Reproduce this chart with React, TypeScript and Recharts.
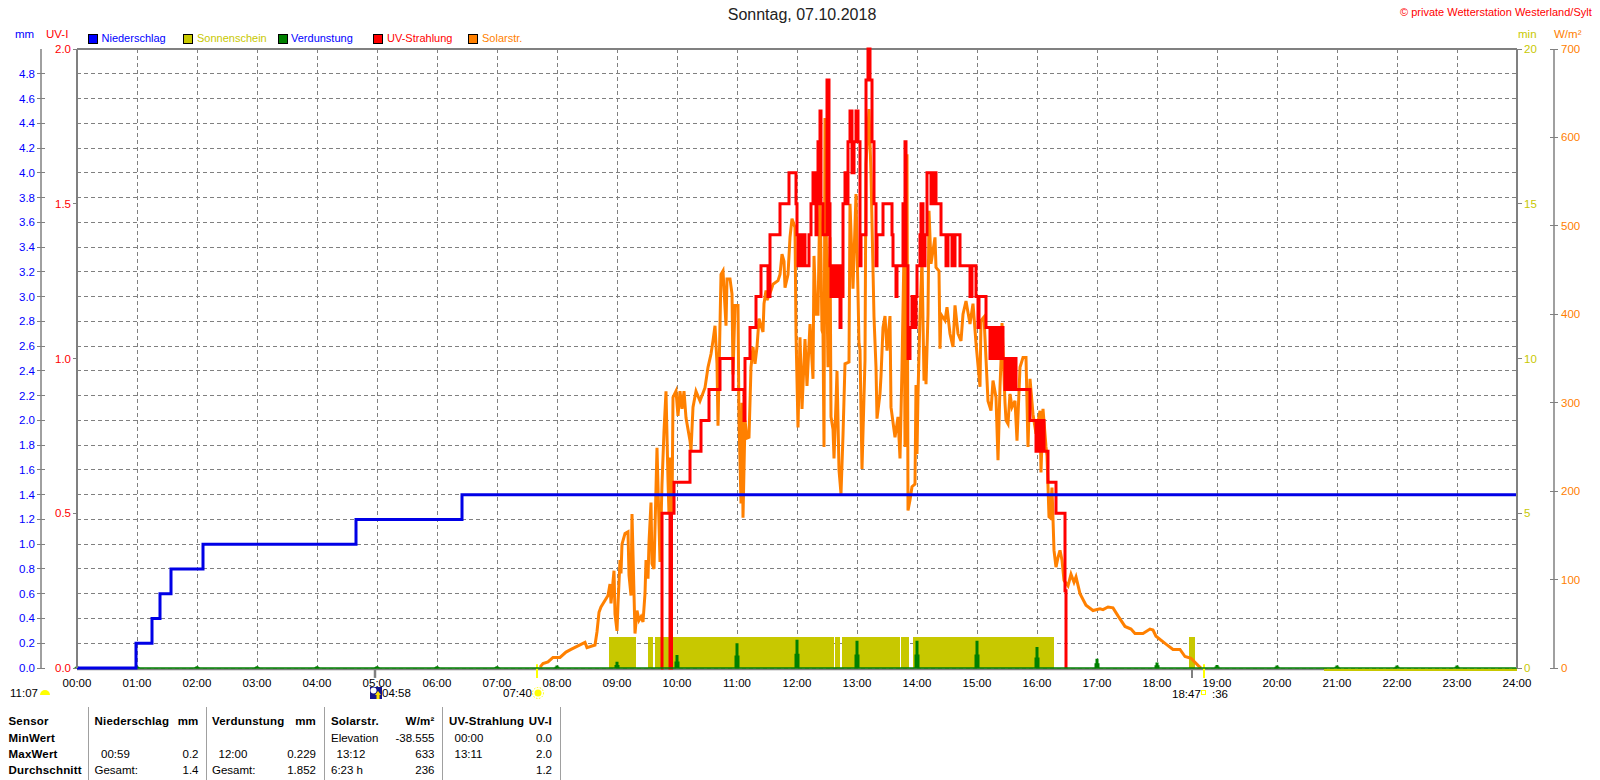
import React from 'react';
import {
  ComposedChart,
  Area,
  Line,
  XAxis,
  YAxis,
  CartesianGrid,
  ReferenceLine,
} from 'recharts';

const FONT = '"Liberation Sans", Arial, sans-serif';
const GRAY = '#808080';
const BLUE = '#0000E6';
const TEXT_BLUE = '#0000FF';
const OLIVE = '#C8C800';
const GREEN = '#008000';
const RED = '#FF0000';
const ORANGE = '#FF8000';

// everything on the x axis is minutes since midnight
const hourTicks = Array.from({ length: 25 }, (_, h) => h * 60);
const mmTicks = [0, 0.2, 0.4, 0.6, 0.8, 1, 1.2, 1.4, 1.6, 1.8, 2, 2.2, 2.4, 2.6, 2.8, 3, 3.2, 3.4, 3.6, 3.8, 4, 4.2, 4.4, 4.6, 4.8];
const uvTicks = [0, 0.5, 1, 1.5, 2];
const minTicks = [0, 5, 10, 15, 20];
const solarTicks = [0, 100, 200, 300, 400, 500, 600, 700];

const rainMinutes = [0, 59, 75, 83, 94, 126, 279, 385, 1440];
const rainValues = [0, 0.2, 0.4, 0.6, 0.8, 1.0, 1.2, 1.4, 1.4];

const sunMinutes = [532, 559, 571, 576, 578, 757, 758, 763, 765, 823, 824, 832, 836, 977, 1112, 1118];
const sunValues = [1, 0, 1, 0, 1, 0, 1, 0, 1, 0, 1, 0, 1, 0, 1, 0];
const sunTailMinutes = [1247, 1440];

const evapHours = [0, 60, 120, 180, 240, 300, 360, 420, 480, 540, 600, 660, 720, 780, 840, 900, 960, 1020, 1080, 1140, 1200, 1260, 1320, 1380];
const evapValues = [0.012, 0.015, 0.015, 0.015, 0.015, 0.015, 0.015, 0.015, 0.02, 0.05, 0.105, 0.2, 0.229, 0.22, 0.22, 0.22, 0.17, 0.075, 0.045, 0.025, 0.02, 0.02, 0.02, 0.02];

const uvMinutes = [
  584, 585, 593, 594.5, 597, 613, 624, 632, 643, 656, 667, 668, 673, 679, 684, 691, 693, 703, 712, 719,
  720, 721, 723, 724, 726, 728, 732, 734, 736, 738, 739, 740, 741, 743, 744, 746, 750, 752, 753, 754,
  757, 759, 761, 763, 764, 766, 768, 770, 771, 773, 775, 777, 779, 781, 783, 784, 789, 791, 793, 795,
  797, 799, 800, 806, 815, 816, 819, 820, 826, 828, 829, 831, 833, 835, 837, 839, 840, 843, 844, 846,
  848, 850, 854, 856, 859, 864, 869, 871, 875, 878, 883, 893, 895, 899, 901, 902, 909, 913, 915, 917,
  919, 922, 924, 926, 928, 930, 932, 934, 936, 938, 939, 953, 959, 961, 963, 965, 967, 971, 979, 988, 989,
];
const uvValues = [
  0, 0.5, 0, 0.5, 0.6, 0.7, 0.8, 0.9, 1.0, 0.9, 0.8, 1.0, 1.1, 1.2, 1.3, 1.2, 1.4, 1.5, 1.6, 1.5,
  1.4, 1.3, 1.4, 1.3, 1.4, 1.3, 1.4, 1.5, 1.6, 1.5, 1.4, 1.5, 1.7, 1.8, 1.5, 1.4, 1.9, 1.5, 1.3, 1.2,
  1.3, 1.2, 1.3, 1.1, 1.2, 1.5, 1.6, 1.5, 1.7, 1.8, 1.6, 1.7, 1.8, 1.7, 1.3, 1.4, 1.9, 2.0, 1.9, 1.7,
  1.5, 1.3, 1.4, 1.5, 1.4, 1.3, 1.2, 1.3, 1.5, 1.7, 1.3, 1.0, 1.1, 1.2, 1.1, 1.2, 1.3, 1.4, 1.5, 1.3,
  1.4, 1.6, 1.5, 1.6, 1.5, 1.4, 1.3, 1.4, 1.3, 1.4, 1.3, 1.2, 1.3, 1.2, 1.1, 1.2, 1.1, 1.0, 1.1, 1.0,
  1.1, 1.0, 1.1, 1.0, 0.9, 1.0, 0.9, 1.0, 0.9, 1.0, 0.9, 0.8, 0.7, 0.8, 0.7, 0.8, 0.7, 0.6, 0.5, 0.25, 0,
];

const solarMinutes = [
  463, 466, 471, 476, 483, 489, 494, 501, 508, 510, 518, 520, 522, 524, 531, 533, 534, 537, 538, 540,
  541, 543, 544, 545, 548, 551, 552, 554, 555, 557, 558, 560, 562, 564, 566, 568, 569, 571, 572, 574,
  575, 577, 580, 583, 585, 587, 589, 591, 592, 593, 595, 596, 599, 601, 603, 605, 607, 609, 613, 614,
  616, 619, 623, 628, 631, 634, 636, 638, 640, 641, 644, 646, 649, 650, 653, 655, 656, 658, 661, 662,
  664, 665, 666, 668, 670, 672, 674, 676, 678, 680, 682, 686, 687, 689, 690, 694, 696, 701, 703, 705,
  707, 708, 711, 713, 715, 718, 719, 721, 723, 725, 728, 730, 733, 736, 737, 739, 741, 743, 745, 746,
  747, 748, 750, 751, 753, 754, 756, 757, 759, 760, 762, 764, 766, 768, 772, 773, 776, 779, 782, 783,
  785, 788, 789, 792, 794, 797, 799, 800, 803, 804, 806, 808, 810, 813, 814, 818, 821, 823, 825, 827,
  828, 829, 830, 831, 833, 835, 838, 839, 840, 841, 843, 845, 847, 848, 849, 851, 852, 854, 858, 859,
  862, 863, 864, 868, 870, 873, 876, 878, 881, 884, 886, 889, 893, 896, 899, 903, 904, 907, 911, 914,
  916, 919, 921, 923, 924, 925, 928, 929, 931, 933, 935, 938, 940, 943, 946, 949, 951, 953, 956, 959,
  963, 964, 966, 969, 970, 972, 973, 975, 977, 979, 981, 983, 985, 987, 991, 994, 997, 999, 1003, 1009,
  1016, 1023, 1026, 1031, 1036, 1041, 1048, 1054, 1058, 1066, 1073, 1076, 1079, 1089, 1096, 1103, 1108, 1114, 1121, 1124,
];
const solarValues = [
  1, 5, 7, 12, 12, 18, 21, 25, 29, 23, 26, 41, 63, 69, 82, 95, 73, 110, 61, 42,
  72, 122, 107, 140, 152, 154, 105, 82, 174, 84, 39, 65, 54, 58, 52, 84, 122, 101, 142, 187,
  118, 112, 249, 120, 208, 268, 313, 212, 174, 238, 174, 306, 313, 285, 313, 293, 313, 283, 257, 246,
  295, 313, 302, 317, 340, 355, 370, 387, 344, 274, 445, 449, 387, 440, 440, 423, 332, 410, 410, 280,
  186, 300, 170, 280, 260, 261, 340, 363, 344, 363, 395, 380, 412, 427, 416, 427, 434, 438, 445, 468,
  460, 430, 445, 487, 508, 498, 378, 272, 374, 293, 372, 319, 389, 327, 466, 400, 400, 543, 382, 378,
  250, 622, 420, 340, 487, 284, 270, 237, 300, 336, 224, 197, 263, 344, 346, 525, 429, 536, 367, 360,
  225, 348, 570, 632, 558, 397, 340, 282, 310, 330, 385, 398, 359, 398, 295, 261, 284, 237, 340, 472,
  250, 300, 581, 178, 190, 205, 208, 320, 242, 310, 398, 462, 325, 363, 321, 400, 517, 457, 487, 453,
  449, 361, 400, 393, 408, 378, 363, 410, 378, 370, 400, 415, 389, 412, 367, 318, 393, 397, 302, 291,
  325, 306, 235, 318, 347, 390, 300, 280, 276, 310, 295, 302, 257, 340, 351, 351, 250, 327, 287, 265,
  291, 221, 293, 250, 240, 171, 170, 204, 133, 114, 125, 133, 122, 99, 93, 106, 97, 103, 84, 71,
  65, 67, 66, 69, 68, 59, 47, 44, 39, 39, 44, 43, 36, 27, 21, 21, 13, 11, 3, 0,
];

const legendItems = [
  { name: 'Niederschlag', color: '#0000FF', text: TEXT_BLUE, box: 87.5, label: 101.5 },
  { name: 'Sonnenschein', color: OLIVE, text: OLIVE, box: 182.5, label: 197 },
  { name: 'Verdunstung', color: GREEN, text: TEXT_BLUE, box: 277.5, label: 291 },
  { name: 'UV-Strahlung', color: RED, text: RED, box: 373, label: 387 },
  { name: 'Solarstr.', color: ORANGE, text: ORANGE, box: 468, label: 482 },
];

// sensor table: x is the left edge (l) or the right edge (r) of the text
const tableRowY = [721, 738, 754, 770];
const tableRules = [88, 206, 324, 442, 560];
const tableCells: [string, number, 'l' | 'r', number, boolean][] = [
  ['Sensor', 8.5, 'l', 0, true],
  ['MinWert', 8.5, 'l', 1, true],
  ['MaxWert', 8.5, 'l', 2, true],
  ['Durchschnitt', 8.5, 'l', 3, true],
  ['Niederschlag', 94.5, 'l', 0, true],
  ['mm', 198.5, 'r', 0, true],
  ['00:59', 101, 'l', 2, false],
  ['0.2', 198.5, 'r', 2, false],
  ['Gesamt:', 94.5, 'l', 3, false],
  ['1.4', 198.5, 'r', 3, false],
  ['Verdunstung', 212, 'l', 0, true],
  ['mm', 316, 'r', 0, true],
  ['12:00', 218.5, 'l', 2, false],
  ['0.229', 316, 'r', 2, false],
  ['Gesamt:', 212, 'l', 3, false],
  ['1.852', 316, 'r', 3, false],
  ['Solarstr.', 331, 'l', 0, true],
  ['W/m²', 434.5, 'r', 0, true],
  ['Elevation', 331, 'l', 1, false],
  ['-38.555', 434.5, 'r', 1, false],
  ['13:12', 336.5, 'l', 2, false],
  ['633', 434.5, 'r', 2, false],
  ['6:23 h', 331, 'l', 3, false],
  ['236', 434.5, 'r', 3, false],
  ['UV-Strahlung', 449, 'l', 0, true],
  ['UV-I', 552, 'r', 0, true],
  ['00:00', 454.5, 'l', 1, false],
  ['0.0', 552, 'r', 1, false],
  ['13:11', 454.5, 'l', 2, false],
  ['2.0', 552, 'r', 2, false],
  ['1.2', 552, 'r', 3, false],
];

const points = (xs: number[], ys: number[]) => xs.map((m, i) => ({ m, v: ys[i] }));
const rainData = points(rainMinutes, rainValues);
const sunData = points(sunMinutes, sunValues);
const uvData = points(uvMinutes, uvValues);
const solarData = points(solarMinutes, solarValues);
const evapBase = [{ m: 0, v: 0 }, { m: 1440, v: 0 }];
// one upright per hour, broken apart by the nulls
const evapTop = evapHours.flatMap((m, i) => [{ m, v: 0 }, { m, v: evapValues[i] }, { m: m + 0.1, v: null }]);
const evapFoot = evapHours.flatMap((m, i) => [{ m, v: 0 }, { m, v: evapValues[i] / 2 }, { m: m + 0.1, v: null }]);

const hhmm = (m: number) => `${String(m / 60).padStart(2, '0')}:00`;

// axis tick: a short gray line crossing the axis plus the coloured number
const makeTick = (color: string, side: 'left' | 'right', inner: number, outer: number, gap: number, fmt: (v: number) => string) =>
  (props: any) => {
    const { x, y, payload } = props;
    const s = side === 'left' ? -1 : 1;
    return (
      <g>
        <line x1={x - s * inner} x2={x + s * outer} y1={y} y2={y} stroke={GRAY} shapeRendering="crispEdges" />
        <text x={x + s * (outer + gap)} y={y + 4} textAnchor={side === 'left' ? 'end' : 'start'} fill={color} fontSize={11.5} fontFamily={FONT}>
          {fmt(payload.value)}
        </text>
      </g>
    );
  };

const abs = (left: number, top: number, color: string, size = 11.5): React.CSSProperties => ({
  position: 'absolute',
  left,
  top,
  color,
  fontSize: size,
  lineHeight: '14px',
  whiteSpace: 'nowrap',
});

const App: React.FC = () => {
  return (
    <div style={{ position: 'absolute', left: 0, top: 0, width: 1600, height: 780, overflow: 'hidden', background: '#fff', fontFamily: FONT }}>
      <ComposedChart width={1600} height={780} margin={{ top: 49, left: 0, right: 0, bottom: 80 }} style={{ position: 'absolute', left: 0, top: 0 }}>
        <CartesianGrid yAxisId="water" stroke={GRAY} strokeDasharray="4 3" shapeRendering="crispEdges" />
        <XAxis
          dataKey="m"
          type="number"
          domain={[0, 1440]}
          ticks={hourTicks}
          interval={0}
          height={32}
          axisLine={false}
          tickLine={false}
          tickSize={0}
          tickMargin={11}
          tickFormatter={hhmm}
          tick={{ fill: '#000', fontSize: 11.5, fontFamily: FONT }}
        />
        {/* axes stack by id order: the id that sorts first sits next to the plot */}
        <YAxis yAxisId="uv" width={36} domain={[0, 2]} ticks={uvTicks} interval={0} tickSize={0} tickMargin={0} tickLine={false}
          axisLine={{ stroke: GRAY, strokeWidth: 2 }} tick={makeTick(RED, 'left', 0, 4, 2, (v) => v.toFixed(1))} />
        <YAxis yAxisId="water" width={41} domain={[0, 5]} ticks={mmTicks} interval={0} tickSize={0} tickMargin={0} tickLine={false}
          axisLine={{ stroke: GRAY, strokeWidth: 1.5 }} tick={makeTick(TEXT_BLUE, 'left', 4, 4, 2, (v) => v.toFixed(1))} />
        <YAxis yAxisId="min" orientation="right" width={37} domain={[0, 20]} ticks={minTicks} interval={0} tickSize={0} tickMargin={0} tickLine={false}
          axisLine={{ stroke: GRAY, strokeWidth: 2 }} tick={makeTick(OLIVE, 'right', 0, 5, 2, (v) => String(v))} />
        <YAxis yAxisId="wm" orientation="right" width={46} domain={[0, 700]} ticks={solarTicks} interval={0} tickSize={0} tickMargin={0} tickLine={false}
          axisLine={{ stroke: GRAY, strokeWidth: 1.5 }} tick={makeTick(ORANGE, 'right', 4, 4, 3, (v) => String(v))} />

        <ReferenceLine yAxisId="water" y={5} stroke={GRAY} strokeWidth={2} />
        <ReferenceLine yAxisId="water" stroke={GRAY} strokeWidth={2} ifOverflow="visible" segment={[{ x: 0, y: -0.01 }, { x: 1247, y: -0.01 }]} />
        <ReferenceLine yAxisId="water" stroke={OLIVE} strokeWidth={2.5} ifOverflow="visible" segment={[{ x: sunTailMinutes[0], y: -0.014 }, { x: sunTailMinutes[1], y: -0.014 }]} />
        <ReferenceLine yAxisId="water" stroke={GRAY} strokeWidth={2.5} ifOverflow="visible" segment={[{ x: 298, y: 0 }, { x: 298, y: -0.08 }]} />
        <ReferenceLine yAxisId="water" stroke={GRAY} strokeWidth={2} ifOverflow="visible" segment={[{ x: 1115, y: 0 }, { x: 1115, y: -0.08 }]} />
        <ReferenceLine yAxisId="water" stroke="#FFFF00" strokeWidth={2} ifOverflow="visible" segment={[{ x: 460, y: 0.03 }, { x: 460, y: -0.08 }]} />
        <ReferenceLine yAxisId="water" stroke="#FFFF00" strokeWidth={2} ifOverflow="visible" segment={[{ x: 1127, y: 0.03 }, { x: 1127, y: -0.08 }]} />

        <Area yAxisId="min" data={sunData} dataKey="v" type="stepAfter" stroke="none" fill={OLIVE} fillOpacity={1} dot={false} isAnimationActive={false} />
        <Line yAxisId="wm" data={solarData} dataKey="v" stroke={ORANGE} strokeWidth={3} dot={false} isAnimationActive={false} />
        <Line yAxisId="uv" data={uvData} dataKey="v" type="stepAfter" stroke={RED} strokeWidth={3} dot={false} isAnimationActive={false} />
        <Line yAxisId="water" data={evapBase} dataKey="v" stroke={GREEN} strokeWidth={1.5} dot={false} isAnimationActive={false} />
        <Line yAxisId="water" data={evapTop} dataKey="v" stroke={GREEN} strokeWidth={3} dot={false} isAnimationActive={false} />
        <Line yAxisId="water" data={evapFoot} dataKey="v" stroke={GREEN} strokeWidth={5} dot={false} isAnimationActive={false} />
        <Line yAxisId="water" data={rainData} dataKey="v" type="stepAfter" stroke={BLUE} strokeWidth={3} dot={false} isAnimationActive={false} />
      </ComposedChart>

      <div style={{ position: 'absolute', left: 0, width: 1604, top: 6, textAlign: 'center', fontSize: 16, lineHeight: '18px', color: '#222' }}>Sonntag, 07.10.2018</div>
      <div style={abs(1400, 5, RED, 11)}>© private Wetterstation Westerland/Sylt</div>

      <div style={abs(15, 27, TEXT_BLUE)}>mm</div>
      <div style={abs(46, 27, RED)}>UV-I</div>
      <div style={abs(1518, 27, OLIVE)}>min</div>
      <div style={abs(1554, 27, ORANGE)}>W/m²</div>

      {legendItems.map((it) => (
        <React.Fragment key={it.name}>
          <div style={{ position: 'absolute', left: it.box, top: 34, width: 8, height: 8, background: it.color, border: '1px solid #000' }} />
          <div style={abs(it.label, 31, it.text, 11)}>{it.name}</div>
        </React.Fragment>
      ))}

      {/* sun and moon times under the axis */}
      <div style={abs(10, 686, '#000')}>11:07</div>
      <svg style={{ position: 'absolute', left: 40, top: 688 }} width={10} height={8}>
        <path d="M0 7 A5 5 0 0 1 10 7 Z" fill="#FFFF00" />
      </svg>
      <svg style={{ position: 'absolute', left: 370, top: 687 }} width={12} height={12}>
        <rect width={12} height={12} fill="#14148C" />
        <circle cx={3.5} cy={3.5} r={3} fill="#fff" />
        <path d="M8 4 L11 8 H9.5 V12 H6.5 V8 H5 Z" fill="#FFE000" />
      </svg>
      <div style={abs(382, 686, '#000')}>04:58</div>
      <div style={abs(503, 686, '#000')}>07:40</div>
      <svg style={{ position: 'absolute', left: 532, top: 687 }} width={12} height={12}>
        <circle cx={6} cy={6} r={3.5} fill="#FFFF00" />
        <circle cx={6} cy={6} r={5.5} fill="none" stroke="#FFFF00" strokeWidth={1} strokeDasharray="1.5 1.5" />
      </svg>
      <div style={abs(1172, 687, '#000')}>18:47</div>
      <div style={{ position: 'absolute', left: 1201, top: 690, width: 3, height: 3, border: '1px solid #FFFF00' }} />
      <div style={abs(1212, 687, '#000')}>:36</div>

      {tableRules.map((x) => (
        <div key={x} style={{ position: 'absolute', left: x, top: 707, width: 1, height: 73, background: '#A0A0A0' }} />
      ))}
      {tableCells.map(([label, x, align, row, bold], i) => (
        <div
          key={i}
          style={{
            ...abs(align === 'l' ? x : x - 100, tableRowY[row] - 7, '#000', 11.5),
            width: align === 'l' ? undefined : 100,
            textAlign: align === 'l' ? 'left' : 'right',
            fontWeight: bold ? 700 : 400,
            letterSpacing: bold ? 0.2 : 0,
          }}
        >
          {label}
        </div>
      ))}
    </div>
  );
};

export default App;
